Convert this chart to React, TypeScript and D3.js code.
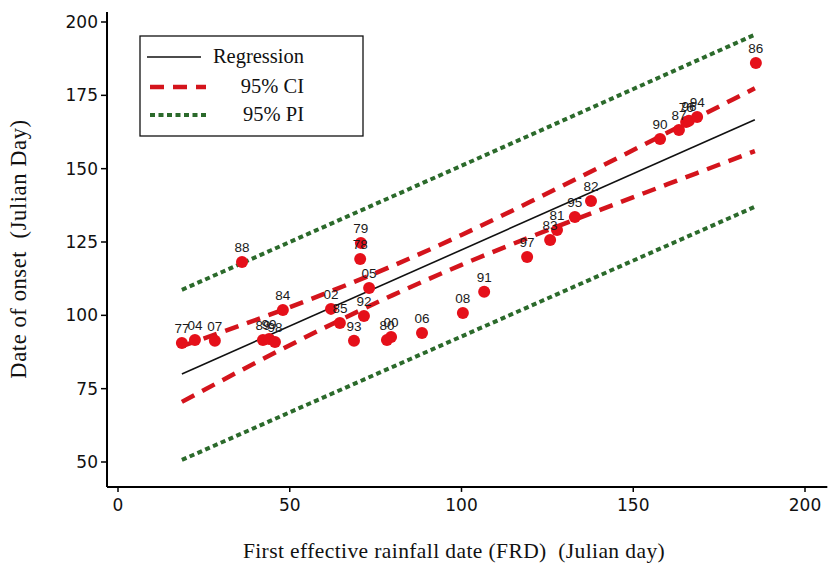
import React from "react";
import * as d3 from "d3";

// Observed onset dates against first effective rainfall date, labelled by year
const yearLabels = ["77", "04", "07", "89", "99", "98", "84", "88", "02", "85", "93", "92", "79", "78", "05", "80", "00", "06", "08", "91", "97", "83", "81", "95", "82", "90", "87", "76", "96", "94", "86"];
const frdValues = [18.6, 22.4, 28.2, 42.2, 44.0, 45.7, 48.0, 36.1, 62.0, 64.6, 68.7, 71.6, 70.7, 70.5, 73.1, 78.3, 79.5, 88.5, 100.4, 106.6, 119.1, 125.8, 127.8, 133.0, 137.7, 157.8, 163.3, 165.4, 166.2, 168.6, 185.7];
const onsetValues = [90.6, 91.6, 91.3, 91.6, 91.9, 90.9, 101.8, 118.2, 102.2, 97.4, 91.3, 99.8, 124.7, 119.2, 109.3, 91.6, 92.6, 94.0, 100.8, 108.0, 119.9, 125.7, 129.1, 133.5, 139.0, 160.1, 163.2, 165.9, 166.3, 167.6, 186.0];

// Fitted regression line (end points)
const regX = [18.6, 185.4];
const regY = [80.0, 166.7];

// 95% confidence band
const ciX = [18.6, 40, 60, 80, 100, 120, 140, 160, 185.4];
const ciUpper = [89.5, 98.4, 107.3, 116.9, 127.4, 138.7, 150.4, 162.3, 177.4];
const ciLower = [70.5, 83.8, 95.7, 106.9, 117.2, 126.7, 135.8, 144.7, 156.0];

// 95% prediction band
const piX = [18.6, 100, 185.4];
const piUpper = [108.7, 151.0, 195.7];
const piLower = [50.7, 92.8, 137.0];

const xTicks = [0, 50, 100, 150, 200];
const yTicks = [50, 75, 100, 125, 150, 175, 200];

const legendItems = ["Regression", "95% CI", "95% PI"];

const W = 830;
const H = 568;

const RED = "#d4141c";
const POINT = "#e5101a";
const GREEN = "#2b6a2b";

export default function App() {
  const x = d3.scaleLinear().domain([0, 200]).range([118, 805]);
  const y = d3.scaleLinear().domain([50, 200]).range([462, 22]);

  const xDom = [-3.2, 206.5];
  const yDom = [41.5, 203.4];

  const line = d3
    .line<[number, number]>()
    .x((d) => x(d[0]))
    .y((d) => y(d[1]))
    .curve(d3.curveMonotoneX);

  const zip = (xs: number[], ys: number[]) => xs.map((v, i) => [v, ys[i]] as [number, number]);

  const axisX0 = x(xDom[0]);
  const axisX1 = x(xDom[1]);
  const axisY0 = y(yDom[0]);
  const axisY1 = y(yDom[1]);

  const tickFont = "'DejaVu Sans', Verdana, sans-serif";
  const serif = "'Liberation Serif', 'Times New Roman', serif";

  return (
    <svg
      width={W}
      height={H}
      viewBox={`0 0 ${W} ${H}`}
      style={{ position: "absolute", left: 0, top: 0, background: "#fff" }}
    >
      <rect x={0} y={0} width={W} height={H} fill="#fff" />

      {/* prediction band */}
      <path d={line(zip(piX, piUpper)) || ""} fill="none" stroke={GREEN} strokeWidth={4} strokeDasharray="5 3.5" />
      <path d={line(zip(piX, piLower)) || ""} fill="none" stroke={GREEN} strokeWidth={4} strokeDasharray="5 3.5" />

      {/* confidence band */}
      <path d={line(zip(ciX, ciUpper)) || ""} fill="none" stroke={RED} strokeWidth={4.5} strokeDasharray="14 9" />
      <path d={line(zip(ciX, ciLower)) || ""} fill="none" stroke={RED} strokeWidth={4.5} strokeDasharray="14 9" />

      {/* regression */}
      <path d={line(zip(regX, regY)) || ""} fill="none" stroke="#111" strokeWidth={1.6} />

      {/* observations */}
      {frdValues.map((fv, i) => (
        <circle key={"p" + i} cx={x(fv)} cy={y(onsetValues[i])} r={6} fill={POINT} />
      ))}
      {frdValues.map((fv, i) => (
        <text
          key={"l" + i}
          x={x(fv)}
          y={y(onsetValues[i]) - 10}
          textAnchor="middle"
          fontFamily="'Liberation Sans', Arial, sans-serif"
          fontSize={13.5}
          fill="#1a1a1a"
        >
          {yearLabels[i]}
        </text>
      ))}

      {/* axes */}
      <line x1={axisX0} x2={axisX0} y1={axisY1} y2={axisY0} stroke="#000" strokeWidth={2} />
      <line x1={axisX0} x2={axisX1} y1={axisY0} y2={axisY0} stroke="#000" strokeWidth={2} />

      {yTicks.map((t) => (
        <g key={"yt" + t}>
          <line x1={axisX0 - 6} x2={axisX0} y1={y(t)} y2={y(t)} stroke="#000" strokeWidth={1.5} />
          <text
            x={axisX0 - 9}
            y={y(t)}
            dy="0.36em"
            textAnchor="end"
            fontFamily={tickFont}
            fontSize={17}
            fill="#111"
          >
            {t}
          </text>
        </g>
      ))}

      {xTicks.map((t) => (
        <g key={"xt" + t}>
          <line x1={x(t)} x2={x(t)} y1={axisY0} y2={axisY0 + 5} stroke="#000" strokeWidth={1.5} />
          <text
            x={x(t)}
            y={axisY0 + 24}
            textAnchor="middle"
            fontFamily={tickFont}
            fontSize={17}
            fill="#111"
          >
            {t}
          </text>
        </g>
      ))}

      {/* axis titles */}
      <text
        x={454}
        y={558}
        textAnchor="middle"
        fontFamily={serif}
        fontSize={21.5}
        letterSpacing={0.4}
        fill="#111"
        style={{ whiteSpace: "pre" }}
      >
        {"First effective rainfall date (FRD)  (Julian day)"}
      </text>
      <text
        transform={`translate(26, 249) rotate(-90)`}
        textAnchor="middle"
        fontFamily={serif}
        fontSize={22.5}
        letterSpacing={0.6}
        fill="#111"
        style={{ whiteSpace: "pre" }}
      >
        {"Date of onset  (Julian Day)"}
      </text>

      {/* legend */}
      <rect x={140} y={36} width={223} height={100} fill="#fff" stroke="#111" strokeWidth={1.3} />
      <line x1={147} x2={201} y1={57} y2={57} stroke="#111" strokeWidth={1.6} />
      <line x1={150} x2={206} y1={87} y2={87} stroke={RED} strokeWidth={4.5} strokeDasharray="14 9" />
      <line x1={150} x2={206} y1={115} y2={115} stroke={GREEN} strokeWidth={4} strokeDasharray="5 3.5" />
      {legendItems.map((s, i) => (
        <text
          key={"lg" + i}
          x={304}
          y={[63, 93, 121][i]}
          textAnchor="end"
          fontFamily={serif}
          fontSize={20.5}
          fill="#111"
        >
          {s}
        </text>
      ))}
    </svg>
  );
}
